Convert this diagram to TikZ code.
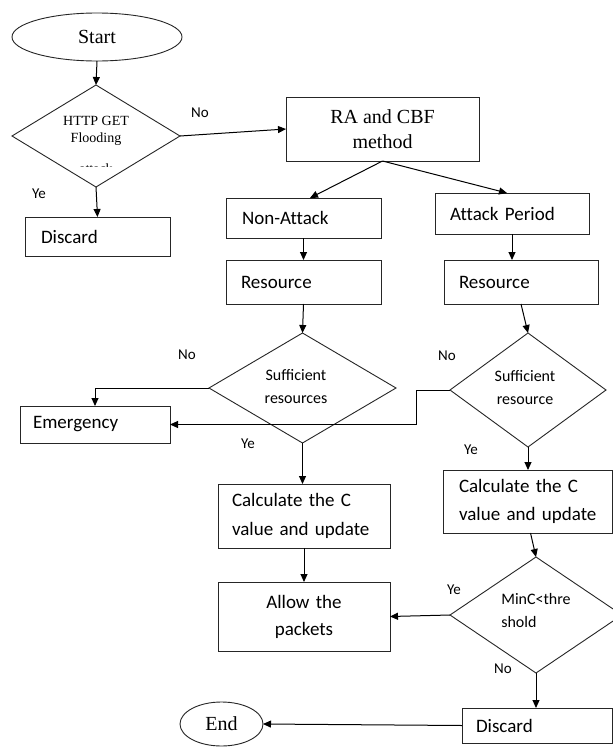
\documentclass[tikz,border=0pt]{standalone}
\usepackage{fontspec}
\setmainfont{Liberation Serif}
\newfontfamily\calfont[Ligatures=NoCommon]{Carlito}
\newfontfamily\calfontlig{Carlito}
\usetikzlibrary{arrows.meta,shapes.geometric}
\newcommand{\ind}[1]{\hspace*{#1pt}}
\begin{document}
\begin{tikzpicture}[x=1pt,y=-1pt,
  every node/.style={inner sep=0pt, outer sep=0pt},
  shp/.style={draw=black!85, line width=0.9pt},
  box/.style={shp, rectangle, align=left, inner xsep=0pt, font=\calfont\fontsize{19}{28.5}\selectfont},
  sbox/.style={shp, rectangle, align=center, font=\fontsize{20}{25}\selectfont},
  oval/.style={shp, ellipse, font=\fontsize{20}{24}\selectfont},
  dia/.style={shp, diamond},
  dtext/.style={align=center, font=\calfontlig\fontsize{16}{23}\selectfont},
  lbl/.style={font=\calfont\fontsize{15}{18}\selectfont},
  arr/.style={draw=black, line width=1pt, -{Triangle[length=8pt,width=7pt]}},
  ln/.style={draw=black, line width=1pt}]
\clip (0,0) rectangle (613,747);
\fill[white] (0,0) rectangle (613,747);

% ovals
\node[oval, minimum width=170pt, minimum height=48pt] (start) at (97,37) {Start};
\node[oval, minimum width=83pt, minimum height=44pt] (end) at (221.5,724) {End};

% diamonds
\node[dia, minimum width=168pt, minimum height=102pt] (d1) at (96,136) {};
\node[font=\fontsize{14}{18}\selectfont] (d1a) at (96,121) {HTTP GET};
\node[font=\fontsize{14}{18}\selectfont] (d1b) at (96,139) {Flooding};
\begin{scope}
  \clip (40,155) rectangle (150,166);
  \node[font=\fontsize{14}{18}\selectfont] (d1c) at (96,169) {attack};
\end{scope}

\node[dia, minimum width=187pt, minimum height=110pt] (d2) at (302.5,388) {};
\node[dtext] (d2t) at (296,386.5) {Sufficient\\resources};

\node[dia, minimum width=156pt, minimum height=114pt] (d3) at (528,390) {};
\node[dtext] (d3t) at (525,387.5) {Sufficient\\resource};

\node[dia, minimum width=172pt, minimum height=116pt] (d4) at (536,615) {};
\node[dtext, align=left] (d4t) at (536,610.5) {MinC<thre\\shold};

% boxes
\node[box, text width=145pt, minimum height=39pt] (dis1) at (97.5,236.5) {\ind{16}Discard};
\node[sbox, minimum width=193pt, minimum height=64pt] (ra) at (382.5,129) {RA and CBF\\method};
\node[box, text width=155pt, minimum height=40pt] (nona) at (303.5,218) {\ind{16}Non-Attack};
\node[box, text width=154pt, minimum height=41pt] (atk) at (512,213.5) {\ind{15}Attack Period};
\node[box, text width=155pt, minimum height=44pt] (resL) at (303.5,282) {\ind{15}Resource};
\node[box, text width=154pt, minimum height=44pt] (resR) at (521,282) {\ind{15}Resource};
\node[box, text width=150pt, minimum height=37pt] (emg) at (95,424.5) {\ind{13}Emergency};
\node[box, text width=172pt, minimum height=64pt] (calcL) at (304,516) {\ind{14}Calculate the C\\\ind{14}value and update};
\node[box, text width=169pt, minimum height=63pt] (calcR) at (527.5,501.5) {\ind{16}Calculate the C\\\ind{16}value and update};
\node[box, align=center, font=\calfont\fontsize{19}{27}\selectfont, text width=172pt, minimum height=69pt] (allow) at (304,616.5) {Allow the\\packets};
\node[box, text width=150pt, minimum height=35pt] (dis2) at (537,725.5) {\ind{14}Discard};

% connectors
\draw[arr] (start.south) -- (d1.north);
\draw[arr] (d1.east) -- (ra.west);
\draw[arr] (d1.south) -- (dis1.north);
\draw[arr] (ra.south) -- ([xshift=6.5pt]nona.north);
\draw[arr] (ra.south) -- ([xshift=-5pt]atk.north);
\draw[arr] (nona.south) -- (resL.north);
\draw[arr] (atk.south) -- (atk.south |- resR.north);
\draw[arr] (resL.south) -- (d2.north);
\draw[arr] (resR.south) -- (d3.north);
\draw[arr] (d2.west) -| (emg.north);
\draw[arr] (d3.west) -- ++(-34,0) |- (emg.east);
\draw[arr] (d2.south) -- (d2.south |- calcL.north);
\draw[arr] (d3.south) -- (d3.south |- calcR.north);
\draw[arr] (calcL.south) -- (allow.north);
\draw[arr] ([xshift=3pt]calcR.south) -- (d4.north);
\draw[arr] (d4.west) -- (allow.east);
\draw[arr] (d4.south) -- (d4.south |- dis2.north);
\draw[arr] (dis2.west) -- (end.east);

% labels
\node[lbl] (l1) at (200,113) {No};
\node[lbl] (l2) at (39,194) {Ye};
\node[lbl] (l3) at (187,355) {No};
\node[lbl] (l4) at (248,444) {Ye};
\node[lbl] (l5) at (447,356) {No};
\node[lbl] (l6) at (471,450) {Ye};
\node[lbl] (l7) at (454,590) {Ye};
\node[lbl] (l8) at (503,669) {No};
\end{tikzpicture}
\end{document}
